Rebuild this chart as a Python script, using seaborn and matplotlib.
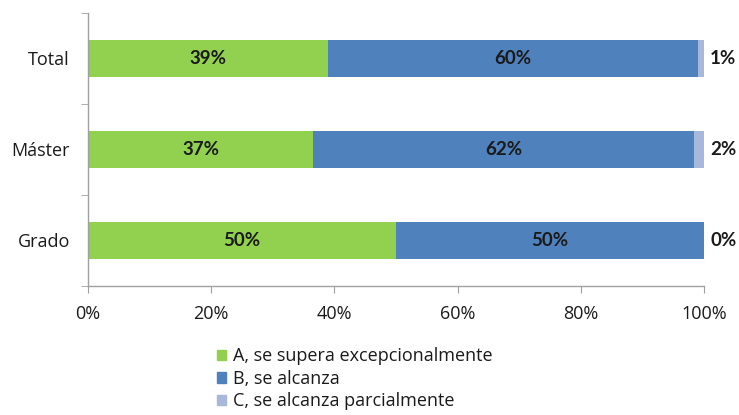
import matplotlib.pyplot as plt
import matplotlib.ticker as mtick
import numpy as np
import seaborn as sns

categories = ["Total", "Máster", "Grado"]
series_names = [
    "A, se supera excepcionalmente",
    "B, se alcanza",
    "C, se alcanza parcialmente",
]
share_a = [39.0, 36.6, 50.0]
share_b = [60.0, 61.8, 50.0]
share_c = [1.0, 1.6, 0.0]
x_ticks = [0, 20, 40, 60, 80, 100]

colors = ["#92D050", "#4F81BD", "#A7B8DB"]

sns.set_style("white")
plt.rcParams["font.family"] = ["Open Sans", "DejaVu Sans"]

fig = plt.figure(figsize=(7.39, 4.15), dpi=100)
ax = fig.add_axes([0.119, 0.311, 0.8336, 0.658])

a = np.array(share_a)
b = np.array(share_b)
c = np.array(share_c)
layers = [a + b + c, a + b, a]
# draw from the widest cumulative layer down so the smaller ones sit on top
for values, col in zip(layers, colors[::-1]):
    sns.barplot(x=values, y=categories, color=col, width=0.4, ax=ax,
                orient="h", saturation=1, linewidth=0)

label_kw = dict(va="center", fontsize=13.5, fontweight="bold", color="#1a1a1a",
                family=["Lato", "DejaVu Sans"])
for i in range(len(categories)):
    ax.text(a[i] / 2, i, f"{a[i]:.0f}%", ha="center", **label_kw)
    ax.text(a[i] + b[i] / 2, i, f"{b[i]:.0f}%", ha="center", **label_kw)
    ax.text(101, i, f"{c[i]:.0f}%", ha="left", **label_kw)

ax.set_xlim(0, 100)
ax.set_ylim(2.5, -0.5)
ax.set_xticks(x_ticks)
ax.xaxis.set_major_formatter(mtick.PercentFormatter(decimals=0))
ax.set_yticks(range(len(categories)))
ax.set_yticklabels(categories)
ax.set_yticks([-0.5, 0.5, 1.5, 2.5], minor=True)
ax.tick_params(axis="y", which="major", length=0, pad=13, labelsize=13,
               labelcolor="#1a1a1a")
ax.tick_params(axis="y", which="minor", length=5, color="#a0a0a0", left=True)
ax.tick_params(axis="x", length=5, color="#a0a0a0", bottom=True, labelsize=13,
               labelcolor="#1a1a1a", pad=9)
ax.set_xlabel("")
ax.set_ylabel("")

for side in ["top", "right"]:
    ax.spines[side].set_visible(False)
for side in ["left", "bottom"]:
    ax.spines[side].set_color("#a0a0a0")
    ax.spines[side].set_linewidth(1)

handles = [plt.Rectangle((0, 0), 1, 1, color=col) for col in colors]
fig.legend(handles, series_names, loc="upper left", bbox_to_anchor=(0.293, 0.163),
           frameon=False, fontsize=13, handlelength=0.55, handleheight=0.55,
           handletextpad=0.35, labelspacing=0.25, borderaxespad=0,
           borderpad=0, labelcolor="#1a1a1a")

fig.savefig("out.png", dpi=100)
